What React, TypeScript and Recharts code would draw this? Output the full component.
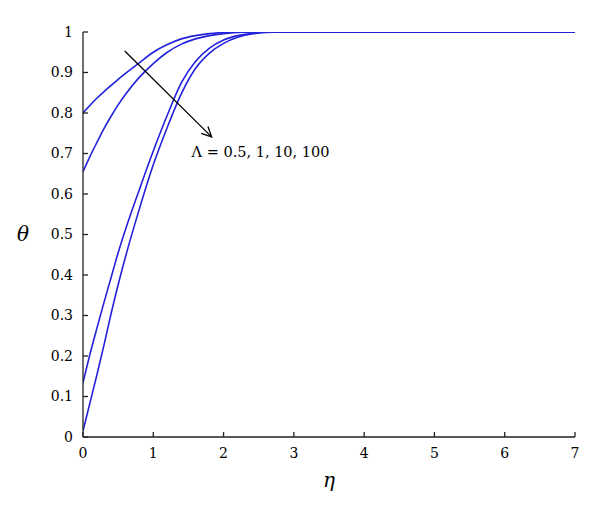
import React from 'react';
import { LineChart, Line, XAxis, YAxis, ReferenceLine, ReferenceDot, Label } from 'recharts';

const eta = [0, 0.1, 0.2, 0.3, 0.4, 0.5, 0.6, 0.8, 1.0, 1.2, 1.4, 1.6, 1.8, 2.0, 2.2, 2.4, 2.6, 2.8, 3, 4, 5, 6, 7];
const theta1 = [0.800, 0.819, 0.837, 0.853, 0.868, 0.883, 0.897, 0.924, 0.950, 0.969, 0.983, 0.991, 0.996, 0.999, 1, 1, 1, 1, 1, 1, 1, 1, 1];
const theta2 = [0.655, 0.693, 0.728, 0.762, 0.792, 0.820, 0.845, 0.888, 0.922, 0.950, 0.970, 0.983, 0.991, 0.996, 0.999, 1, 1, 1, 1, 1, 1, 1, 1];
const theta3 = [0.134, 0.205, 0.270, 0.333, 0.394, 0.455, 0.510, 0.610, 0.706, 0.795, 0.875, 0.927, 0.960, 0.980, 0.991, 0.997, 1, 1, 1, 1, 1, 1, 1];
const theta4 = [0.015, 0.085, 0.155, 0.228, 0.305, 0.376, 0.442, 0.562, 0.672, 0.765, 0.848, 0.910, 0.948, 0.972, 0.987, 0.995, 0.999, 1, 1, 1, 1, 1, 1];

const xTicks = [0, 1, 2, 3, 4, 5, 6, 7];
const yTicks = [0, 0.1, 0.2, 0.3, 0.4, 0.5, 0.6, 0.7, 0.8, 0.9, 1];

const arrowStart = { eta: 0.594, theta: 0.953 };
const arrowEnd = { eta: 1.83, theta: 0.741 };
const annotation = { eta: 1.545, theta: 0.692, text: 'Λ = 0.5, 1, 10, 100' };

const data = eta.map((e, i) => ({ eta: e, t1: theta1[i], t2: theta2[i], t3: theta3[i], t4: theta4[i] }));

const FONT = '"DejaVu Serif", serif';
const BLUE = '#2222dc';
const AXIS = '#222';

const ArrowShape = (p: any) => {
  const { x1, y1, x2, y2 } = p;
  if ([x1, y1, x2, y2].some((v: any) => typeof v !== 'number' || isNaN(v))) return null;
  const ang = Math.atan2(y2 - y1, x2 - x1);
  const L = 11;
  const a = 0.45;
  const h1x = x2 - L * Math.cos(ang - a);
  const h1y = y2 - L * Math.sin(ang - a);
  const h2x = x2 - L * Math.cos(ang + a);
  const h2y = y2 - L * Math.sin(ang + a);
  return (
    <g>
      <line x1={x1} y1={y1} x2={x2} y2={y2} stroke="#000" strokeWidth={1.3} />
      <polyline points={`${h1x},${h1y} ${x2},${y2} ${h2x},${h2y}`} fill="none" stroke="#000" strokeWidth={1.3} />
    </g>
  );
};

const TextShape = (p: any) => (
  <text x={p.cx} y={p.cy} fontFamily={FONT} fontSize={14.5} fill="#000" textAnchor="start">
    {annotation.text}
  </text>
);

export default function App() {
  return (
    <div style={{ position: 'absolute', left: 0, top: 0, width: 600, height: 511, background: '#fff' }}>
      <LineChart width={600} height={511} data={data} margin={{ top: 32, right: 25, bottom: 19, left: 23 }}>
        <XAxis
          dataKey="eta"
          type="number"
          domain={[0, 7]}
          ticks={xTicks}
          allowDataOverflow
          height={55}
          tickSize={-5}
          tickMargin={16}
          stroke={AXIS}
          strokeWidth={1.3}
          tick={{ fill: '#000', fontFamily: FONT, fontSize: 14 }}
        >
          <Label
            content={(props: any) => {
              const vb = props.viewBox || { x: 83, y: 437, width: 492, height: 55 };
              return (
                <text x={vb.x + vb.width / 2} y={vb.y + 50} textAnchor="middle" fontFamily={FONT} fontStyle="italic" fontSize={20} fill="#000">
                  η
                </text>
              );
            }}
          />
        </XAxis>
        <YAxis
          type="number"
          domain={[0, 1]}
          ticks={yTicks}
          allowDataOverflow
          width={60}
          tickSize={-5}
          tickMargin={15}
          stroke={AXIS}
          strokeWidth={1.3}
          tick={{ fill: '#000', fontFamily: FONT, fontSize: 14 }}
        >
          <Label
            content={(props: any) => {
              const vb = props.viewBox || { x: 23, y: 32, width: 60, height: 405 };
              return (
                <text x={vb.x} y={vb.y + vb.height / 2 + 6} textAnchor="middle" fontFamily={FONT} fontStyle="italic" fontSize={20} fill="#000">
                  θ
                </text>
              );
            }}
          />
        </YAxis>
        <Line dataKey="t1" type="monotone" stroke={BLUE} strokeWidth={1.6} dot={false} isAnimationActive={false} />
        <Line dataKey="t2" type="monotone" stroke={BLUE} strokeWidth={1.6} dot={false} isAnimationActive={false} />
        <Line dataKey="t3" type="monotone" stroke={BLUE} strokeWidth={1.6} dot={false} isAnimationActive={false} />
        <Line dataKey="t4" type="monotone" stroke={BLUE} strokeWidth={1.6} dot={false} isAnimationActive={false} />
        <ReferenceLine
          segment={[{ x: arrowStart.eta, y: arrowStart.theta }, { x: arrowEnd.eta, y: arrowEnd.theta }]}
          shape={ArrowShape}
          ifOverflow="visible"
        />
        <ReferenceDot x={annotation.eta} y={annotation.theta} r={0} shape={TextShape} ifOverflow="visible" />
      </LineChart>
    </div>
  );
}
